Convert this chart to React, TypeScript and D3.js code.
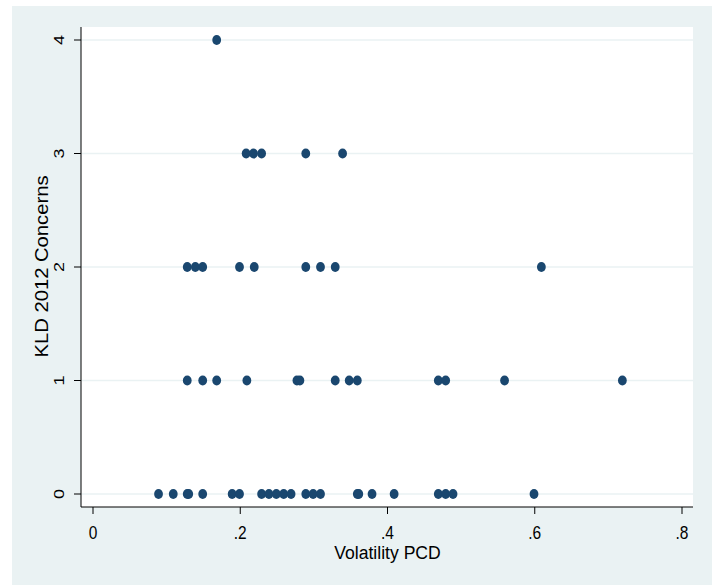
import React from "react";
import * as d3 from "d3";

const xTicks = [0, 0.2, 0.4, 0.6, 0.8];
const xTickLabels = ["0", ".2", ".4", ".6", ".8"];
const yTicks = [0, 1, 2, 3, 4];

const row4 = [0.168];
const row3 = [0.208, 0.218, 0.229, 0.289, 0.339];
const row2 = [0.128, 0.139, 0.149, 0.199, 0.219, 0.289, 0.309, 0.329, 0.609];
const row1 = [0.128, 0.149, 0.168, 0.209, 0.277, 0.281, 0.329, 0.348, 0.359, 0.469, 0.479, 0.559, 0.719];
const row0 = [0.089, 0.109, 0.128, 0.13, 0.149, 0.189, 0.199, 0.229, 0.239, 0.249, 0.259, 0.269, 0.289, 0.299, 0.309, 0.359, 0.361, 0.379, 0.409, 0.469, 0.479, 0.489, 0.599];

const rows: [number, number[]][] = [
  [0, row0],
  [1, row1],
  [2, row2],
  [3, row3],
  [4, row4],
];

export default function App() {
  const W = 712, H = 585;
  const plot = { left: 81, right: 693, top: 27, bottom: 507 };
  const x = d3.scaleLinear().domain([0, 0.8]).range([93, 682]);
  const y = d3.scaleLinear().domain([0, 4]).range([494, 40]);
  const font = "'Liberation Sans', Arial, Helvetica, sans-serif";
  const pts: { x: number; y: number }[] = [];
  rows.forEach(([yv, xs]) => xs.forEach((xv) => pts.push({ x: xv, y: yv })));
  const stretch = 1.2;
  return (
    <svg width={W} height={H} style={{ position: "absolute", left: 0, top: 0 }}>
      <rect x={0} y={0} width={W} height={H} fill="#ffffff" />
      <rect x={12} y={6} width={W - 12} height={H - 6} fill="#eaf2f3" />
      <rect x={plot.left} y={plot.top} width={plot.right - plot.left} height={plot.bottom - plot.top} fill="#ffffff" />
      {yTicks.map((t) => (
        <line key={"g" + t} x1={plot.left} x2={plot.right} y1={y(t)} y2={y(t)} stroke="#eaf2f3" strokeWidth={1.5} />
      ))}
      {pts.map((p, i) => (
        <ellipse key={i} cx={x(p.x)} cy={y(p.y)} rx={4.4} ry={5} fill="#1a476f" />
      ))}
      <line x1={plot.left} x2={plot.left} y1={plot.top} y2={plot.bottom} stroke="#000" strokeWidth={1} />
      <line x1={plot.left} x2={plot.right} y1={plot.bottom} y2={plot.bottom} stroke="#000" strokeWidth={1} />
      {yTicks.map((t) => (
        <g key={"yt" + t}>
          <line x1={plot.left - 7} x2={plot.left} y1={y(t)} y2={y(t)} stroke="#000" />
          <text
            transform={`translate(64,${y(t)}) rotate(-90) scale(${stretch},1)`}
            textAnchor="middle"
            fontFamily={font}
            fontSize={15}
            fill="#000"
          >
            {t}
          </text>
        </g>
      ))}
      {xTicks.map((t, i) => (
        <g key={"xt" + t}>
          <line x1={x(t)} x2={x(t)} y1={plot.bottom} y2={plot.bottom + 7} stroke="#000" />
          <text
            transform={`translate(${x(t)},538.5) scale(1,${stretch})`}
            textAnchor="middle"
            fontFamily={font}
            fontSize={15.5}
            fill="#000"
          >
            {xTickLabels[i]}
          </text>
        </g>
      ))}
      <text
        x={(x(0) + x(0.8)) / 2}
        y={559}
        textAnchor="middle"
        fontFamily={font}
        fontSize={17.6}
        fill="#000"
      >
        Volatility PCD
      </text>
      <text
        transform={`translate(48,266.5) rotate(-90) scale(1.1,1)`}
        textAnchor="middle"
        fontFamily={font}
        fontSize={18.4}
        fill="#000"
      >
        KLD 2012 Concerns
      </text>
    </svg>
  );
}
